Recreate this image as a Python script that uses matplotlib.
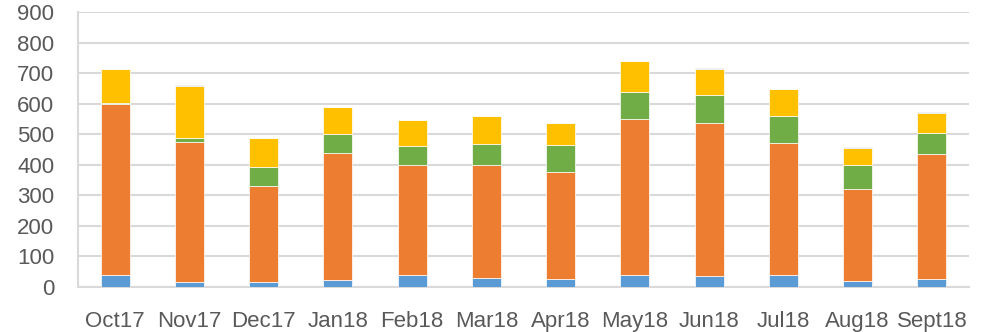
import matplotlib
matplotlib.use("Agg")
import matplotlib.pyplot as plt
import numpy as np

months = ["Oct17", "Nov17", "Dec17", "Jan18", "Feb18", "Mar18",
          "Apr18", "May18", "Jun18", "Jul18", "Aug18", "Sept18"]
series_a = [40, 18, 18, 22, 39, 28, 25, 39, 35, 39, 20, 25]
series_b = [558, 455, 312, 415, 359, 372, 350, 510, 503, 432, 300, 409]
series_c = [3, 16, 63, 63, 64, 69, 90, 90, 90, 90, 79, 71]
series_d = [111, 168, 95, 89, 86, 92, 71, 100, 86, 87, 56, 66]
series_e = [0, 3, 0, 0, 0, 0, 2, 0, 3, 0, 2, 2]

colors = ["#5B9BD5", "#ED7D31", "#70AD47", "#FFC000", "#A5A5A5"]
y_ticks = list(range(0, 901, 100))

plt.rcParams["font.family"] = ["Liberation Sans", "DejaVu Sans"]

fig = plt.figure(figsize=(9.84, 3.32), dpi=100)
ax = fig.add_axes([78 / 984, 45 / 332, 891 / 984, 275 / 332])

x = np.arange(len(months))
bottom = np.zeros(len(months))
for vals, col in zip([series_a, series_b, series_c, series_d, series_e], colors):
    ax.bar(x, vals, width=0.39, bottom=bottom, color=col,
           edgecolor="white", linewidth=0.5, zorder=3)
    bottom += np.array(vals)

ax.set_xlim(-0.5, len(months) - 0.5)
ax.set_ylim(0, 900)
ax.set_yticks(y_ticks)
ax.set_xticks(x)
ax.set_xticklabels(months)
ax.grid(axis="y", color="#D9D9D9", linewidth=1.5, zorder=0)
for side in ["top", "right"]:
    ax.spines[side].set_visible(False)
for side in ["left", "bottom"]:
    ax.spines[side].set_color("#D9D9D9")
    ax.spines[side].set_linewidth(1.5)
ax.tick_params(axis="both", length=0, labelsize=16, colors="#595959")
ax.tick_params(axis="y", pad=17)
ax.tick_params(axis="x", pad=17)

fig.savefig("out.png", dpi=100)
